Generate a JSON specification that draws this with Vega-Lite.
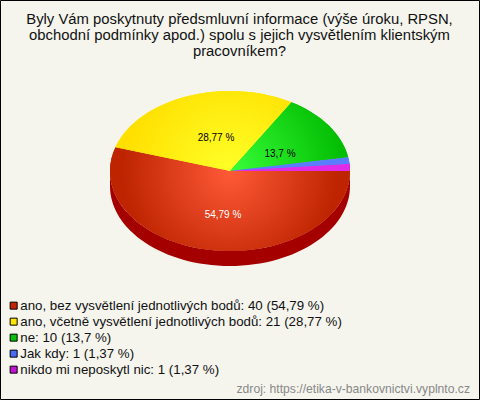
{
"$schema":"https://vega.github.io/schema/vega-lite/v6.json",
"width":479,"height":399,"padding":{"left":0,"top":0,"right":1,"bottom":1},"autosize":{"type":"none"},
"background":"#F5F5EE",
"view":{"stroke":"#000000","strokeWidth":1,"fill":"#F5F5EE"},
"title":{"text":["Byly Vám poskytnuty předsmluvní informace (výše úroku, RPSN,","obchodní podmínky apod.) spolu s jejich vysvětlením klientským","pracovníkem?"],"anchor":"middle","frame":"group","font":"Liberation Sans","fontSize":14.85,"fontWeight":"normal","color":"#111111","lineHeight":16,"baseline":"top","offset":0,"dy":59},
"data":{"values":[
{"odpoved":"ano, bez vysvětlení jednotlivých bodů","pocet":40,"podil":"54,79 %","popisek":"ano, bez vysvětlení jednotlivých bodů: 40 (54,79 %)"},
{"odpoved":"ano, včetně vysvětlení jednotlivých bodů","pocet":21,"podil":"28,77 %","popisek":"ano, včetně vysvětlení jednotlivých bodů: 21 (28,77 %)"},
{"odpoved":"ne","pocet":10,"podil":"13,7 %","popisek":"ne: 10 (13,7 %)"},
{"odpoved":"Jak kdy","pocet":1,"podil":"1,37 %","popisek":"Jak kdy: 1 (1,37 %)"},
{"odpoved":"nikdo mi neposkytl nic","pocet":1,"podil":"1,37 %","popisek":"nikdo mi neposkytl nic: 1 (1,37 %)"}
]},
"encoding":{
"x":{"datum":0,"type":"quantitative","scale":{"domain":[-230,249]},"axis":null},
"y":{"datum":0,"type":"quantitative","scale":{"domain":[-228,171]},"axis":null}
},
"layer":[
{"transform":[{"filter":"datum.pocet==40"}],
 "mark":{"type":"point","filled":true,"opacity":1,"size":4,"fill":"#A50000","shape":"M-120 0A120 80 0 0 0 120 0L120 15A120 80 0 0 1 -120 15Z"}},
{"mark":{"type":"point","filled":true,"opacity":1,"size":4},
 "encoding":{
  "shape":{"field":"odpoved","type":"nominal","legend":null,"scale":{"domain":["ano, bez vysvětlení jednotlivých bodů","ano, včetně vysvětlení jednotlivých bodů","ne","Jak kdy","nikdo mi neposkytl nic"],"range":["M0 0L120 0A120 80 0 1 1 -114.6 -23.7Z","M0 0L-114.6 -23.7A120 80 0 0 1 61.5 -68.7Z","M0 0L61.5 -68.7A120 80 0 0 1 118.2 -13.7Z","M0 0L118.2 -13.7A120 80 0 0 1 119.6 -6.9Z","M0 0L119.6 -6.9A120 80 0 0 1 120 0Z"]}},
  "fill":{"field":"popisek","type":"nominal","scale":{"domain":["ano, bez vysvětlení jednotlivých bodů: 40 (54,79 %)","ano, včetně vysvětlení jednotlivých bodů: 21 (28,77 %)","ne: 10 (13,7 %)","Jak kdy: 1 (1,37 %)","nikdo mi neposkytl nic: 1 (1,37 %)"],"range":["#C12600","#FFE600","#0CBF0C","#4A6CF5","#C213D5"]},
   "legend":{"orient":"none","legendX":7,"legendY":299,"title":null,"symbolType":"square","symbolSize":49,"symbolStrokeColor":"#000000","symbolStrokeWidth":1,"labelFont":"Liberation Sans","labelFontSize":13.3,"labelColor":"#111111","labelLimit":420,"rowPadding":2,"labelOffset":0}}
 }},
{"transform":[{"filter":"datum.pocet==40"}],
 "mark":{"type":"point","filled":true,"opacity":1,"size":4,"shape":"M0 0L120 0A120 80 0 1 1 -114.6 -23.7Z","fill":{"gradient":"radial","x1":0.5,"y1":0.383,"r1":0,"x2":0.5,"y2":0.383,"r2":0.45,"stops":[{"offset":0,"color":"#FF5A38"},{"offset":1,"color":"#BE2400"}]}}},
{"transform":[{"filter":"datum.pocet==21"}],
 "mark":{"type":"point","filled":true,"opacity":1,"size":4,"shape":"M0 0L-114.6 -23.7A120 80 0 0 1 61.5 -68.7Z","fill":{"gradient":"radial","x1":0.651,"y1":0.727,"r1":0,"x2":0.651,"y2":0.727,"r2":0.6,"stops":[{"offset":0,"color":"#FFFF28"},{"offset":1,"color":"#FFE000"}]}}},
{"transform":[{"filter":"datum.pocet==10"}],
 "mark":{"type":"point","filled":true,"opacity":1,"size":4,"shape":"M0 0L61.5 -68.7A120 80 0 0 1 118.2 -13.7Z","fill":{"gradient":"radial","x1":0,"y1":0.79,"r1":0,"x2":0,"y2":0.79,"r2":0.95,"stops":[{"offset":0,"color":"#38FF38"},{"offset":1,"color":"#04BE04"}]}}},
{"transform":[{"filter":"datum.odpoved=='Jak kdy'"}],
 "mark":{"type":"point","filled":true,"opacity":1,"size":4,"fill":"#5A7CFF","shape":"M0 0L118.2 -13.7A120 80 0 0 1 119.6 -6.9Z"}},
{"transform":[{"filter":"datum.odpoved=='nikdo mi neposkytl nic'"}],
 "mark":{"type":"point","filled":true,"opacity":1,"size":4,"fill":"#E02CE8","shape":"M0 0L119.6 -6.9A120 80 0 0 1 120 0Z"}},
{"transform":[{"filter":"datum.pocet==40"}],
 "mark":{"type":"text","font":"Liberation Sans","fontSize":10,"color":"#FFFFFF","align":"center","baseline":"middle"},
 "encoding":{"text":{"field":"podil"},"x":{"datum":-7},"y":{"datum":-44}}},
{"transform":[{"filter":"datum.pocet==21"}],
 "mark":{"type":"text","font":"Liberation Sans","fontSize":10,"color":"#000000","align":"center","baseline":"middle"},
 "encoding":{"text":{"field":"podil"},"x":{"datum":-14},"y":{"datum":33}}},
{"transform":[{"filter":"datum.pocet==10"}],
 "mark":{"type":"text","font":"Liberation Sans","fontSize":10,"color":"#000000","align":"center","baseline":"middle"},
 "encoding":{"text":{"field":"podil"},"x":{"datum":50},"y":{"datum":17}}},
{"data":{"values":[{"zdroj":"zdroj: https://etika-v-bankovnictvi.vyplnto.cz"}]},
 "mark":{"type":"text","font":"Liberation Sans","fontSize":12.15,"color":"#888888","align":"right","baseline":"middle"},
 "encoding":{"text":{"field":"zdroj"},"x":{"datum":240},"y":{"datum":-218}}}
]
}
